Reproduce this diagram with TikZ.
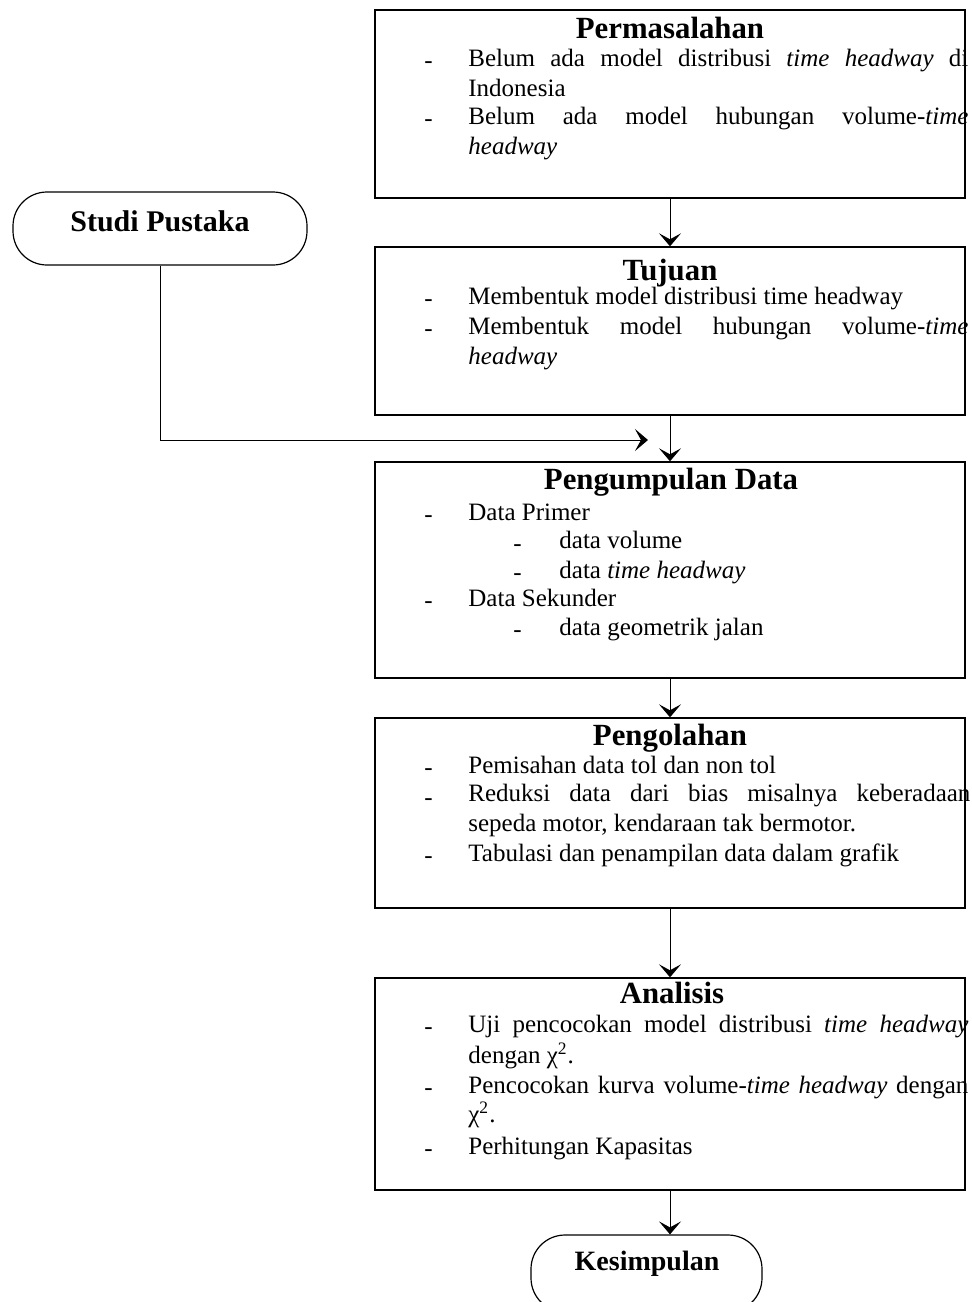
\documentclass[tikz,border=0pt]{standalone}
\usepackage{fontspec}
\setmainfont{Liberation Serif}
\usetikzlibrary{arrows.meta,fit}
\tikzset{
  box/.style={draw, line width=0.7pt, inner sep=0pt},
  stadium/.style={draw, line width=0.6pt, rounded corners=17pt, inner sep=0pt},
  ttl/.style={anchor=center, inner sep=0pt, font=\fontsize{14}{16}\selectfont\bfseries, text height=10pt, text depth=3pt},
  btitle/.style={anchor=base, inner sep=0pt, font=\fontsize{15.4}{18}\selectfont\bfseries},
  txt/.style={anchor=west, inner sep=0pt, font=\fontsize{12.5}{15}\selectfont, text height=9pt, text depth=3pt},
  flow/.style={line width=0.5pt, -{Stealth[length=6.5pt,width=11pt,inset=3pt]}}
}
\newcommand{\jline}[2]{\makebox[#1][s]{#2}}
\begin{document}
\begin{tikzpicture}[x=0.5pt,y=-0.5pt]
\useasboundingbox (0,0) rectangle (971,1302);

% boxes
\node[box, fit={(375,10) (965,198)}] (perm) {};
\node[box, fit={(375,247) (965,415)}] (tuj) {};
\node[box, fit={(375,462) (965,678)}] (peng) {};
\node[box, fit={(375,718) (965,908)}] (olah) {};
\node[box, fit={(375,978) (965,1190)}] (anal) {};
\node[stadium, fit={(13,192) (307,265)}] (studi) {};
\node[stadium, fit={(531,1235) (762,1312)}] (kes) {};

% Studi Pustaka / Kesimpulan labels
\node[ttl, font=\fontsize{15}{17}\selectfont\bfseries] (studit) at (160,224) {Studi Pustaka};
\node[ttl] (kest) at (647,1263) {Kesimpulan};

% Permasalahan
\node[btitle] (permt) at (670,38) {Permasalahan};
\node[txt] (p1d) at (424,62) {-};
\node[txt] (p1) at (468,60) {\jline{250pt}{Belum ada model distribusi \textit{time headway} di}};
\node[txt] (p1b) at (468,90) {Indonesia};
\node[txt] (p2d) at (424,120) {-};
\node[txt] (p2) at (468,118) {\jline{250pt}{Belum ada model hubungan volume-\textit{time}}};
\node[txt] (p2b) at (468,148) {\textit{headway}};

% Tujuan
\node[btitle] (tujt) at (670,280) {Tujuan};
\node[txt] (t1d) at (424,300) {-};
\node[txt] (t1) at (468,298) {Membentuk model distribusi time headway};
\node[txt] (t2d) at (424,330) {-};
\node[txt] (t2) at (468,328) {\jline{250pt}{Membentuk model hubungan volume-\textit{time}}};
\node[txt] (t2b) at (468,358) {\textit{headway}};

% Pengumpulan Data
\node[btitle] (pengt) at (671,489) {Pengumpulan Data};
\node[txt] (g1d) at (424,516) {-};
\node[txt] (g1) at (468,514) {Data Primer};
\node[txt] (g2d) at (513,545) {-};
\node[txt] (g2) at (559,542) {data volume};
\node[txt] (g3d) at (513,574) {-};
\node[txt] (g3) at (559,572) {data \textit{time headway}};
\node[txt] (g4d) at (424,602) {-};
\node[txt] (g4) at (468,600) {Data Sekunder};
\node[txt] (g5d) at (513,631) {-};
\node[txt] (g5) at (559,629) {data geometrik jalan};

% Pengolahan
\node[btitle] (olaht) at (670,745) {Pengolahan};
\node[txt] (o1d) at (424,769) {-};
\node[txt] (o1) at (468,767) {Pemisahan data tol dan non tol};
\node[txt] (o2d) at (424,799) {-};
\node[txt] (o2) at (468,795) {\jline{251pt}{Reduksi data dari bias misalnya keberadaan}};
\node[txt] (o2b) at (468,825) {sepeda motor, kendaraan tak bermotor.};
\node[txt] (o3d) at (424,857) {-};
\node[txt] (o3) at (468,855) {Tabulasi dan penampilan data dalam grafik};

% Analisis
\node[btitle] (analt) at (672,1003) {Analisis};
\node[txt] (a1d) at (424,1028) {-};
\node[txt] (a1) at (468,1026) {\jline{250pt}{Uji pencocokan model distribusi \textit{time headway}}};
\node[txt] (a1b) at (468,1057) {dengan χ\textsuperscript{2}.};
\node[txt] (a2d) at (424,1089) {-};
\node[txt] (a2) at (468,1087) {\jline{250pt}{Pencocokan kurva volume-\textit{time headway} dengan}};
\node[txt] (a2b) at (468,1116) {χ\textsuperscript{2}.};
\node[txt] (a3d) at (424,1150) {-};
\node[txt] (a3) at (468,1148) {Perhitungan Kapasitas};

% connectors
\coordinate (join) at (648,440);
\draw[flow] (perm.south) -- (tuj.north);
\draw[flow] (tuj.south) -- (peng.north);
\draw[flow] (peng.south) -- (olah.north);
\draw[flow] (olah.south) -- (anal.north);
\draw[flow] (anal.south) -- (anal.south |- kes.north);
\draw[flow] (studi.south) |- (join);
\end{tikzpicture}
\end{document}
